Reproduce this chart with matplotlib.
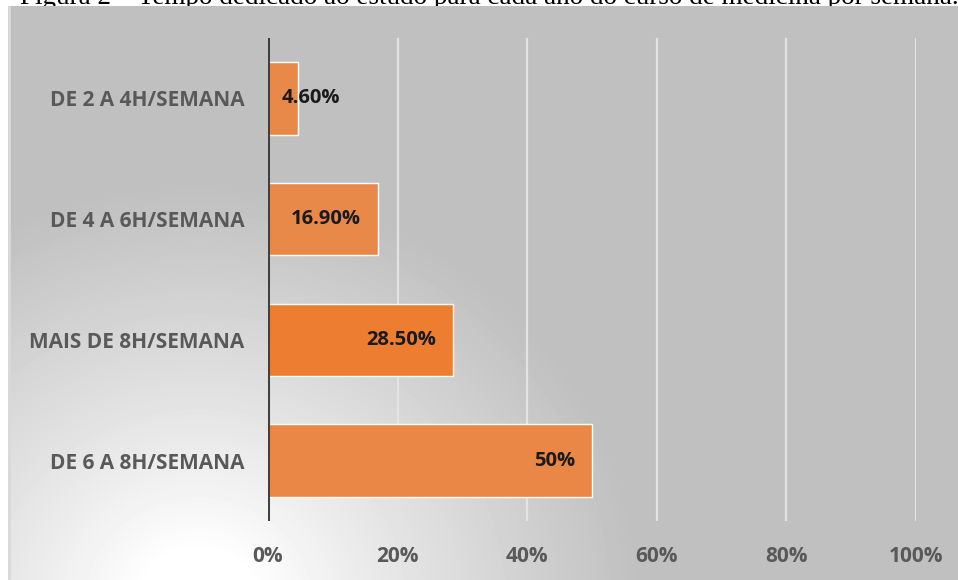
import numpy as np
import matplotlib
matplotlib.use('Agg')
import matplotlib.pyplot as plt

# data (top to bottom as shown)
categories = ['DE 2 A 4H/SEMANA', 'DE 4 A 6H/SEMANA', 'MAIS DE 8H/SEMANA', 'DE 6 A 8H/SEMANA']
values = [4.6, 16.9, 28.5, 50.0]
labels = ['4.60%', '16.90%', '28.50%', '50%']
xticks = [0, 20, 40, 60, 80, 100]
xticklabels = ['0%', '20%', '40%', '60%', '80%', '100%']
caption = 'Figura 2 \u2013 Tempo dedicado ao estudo para cada ano do curso de medicina por semana.'

W, H = 958, 580
fig = plt.figure(figsize=(W / 100, H / 100), dpi=100)
fig.patch.set_facecolor('white')

# caption, mostly hidden behind the chart area
fig.text(20 / W, 1 - 4 / H, caption, fontsize=19.5, family='Liberation Serif',
         ha='left', va='baseline', color='black', zorder=-5)

# chart background with radial gradient
bg = fig.add_axes([8 / W, 0, 1 - 8 / W, 1 - 6 / H], zorder=1)
yy, xx = np.mgrid[0:574, 0:950]
d = np.sqrt(((xx - 190) / 1.0) ** 2 + ((yy - 600) / 0.95) ** 2)
t = np.clip((d - 60) / 380, 0, 1) ** 0.9
img = 1.0 - t * (1 - 0.753)
bg.imshow(img, cmap='gray', vmin=0, vmax=1, aspect='auto', interpolation='bilinear')
bg.set_xticks([])
bg.set_yticks([])
for s in bg.spines.values():
    s.set_visible(False)
bg.plot([0, 0], [0, 573], color='#d9d9d9', lw=2)

ax = fig.add_axes([268 / W, 59 / H, 648 / W, 483 / H], zorder=2)
ax.patch.set_alpha(0)
pos = np.arange(len(categories))[::-1]
colors = ['#E8894A', '#E8894A', '#ED7D31', '#EA8646']
ax.barh(pos, values, height=0.6, color=colors, edgecolor='white', linewidth=1, zorder=3)

for p, v, lab in zip(pos, values, labels):
    if v < 10:
        ax.annotate(lab, (0, p), xytext=(14 * 0.72, 0), textcoords='offset points',
                    ha='left', va='center', fontsize=14.5, fontweight='bold',
                    family='Open Sans', color='#1a1a1a', zorder=4)
    else:
        ax.annotate(lab, (v, p), xytext=(-17 * 0.72, 0), textcoords='offset points',
                    ha='right', va='center', fontsize=14.5, fontweight='bold',
                    family='Open Sans', color='#1a1a1a', zorder=4)

ax.set_xlim(0, 100)
ax.set_ylim(-0.5, 3.5)
ax.set_xticks(xticks)
ax.set_xticklabels(xticklabels)
ax.set_yticks(pos)
ax.set_yticklabels(categories)
for s in ax.spines.values():
    s.set_visible(False)
ax.axvline(0, color='#404040', lw=2.2, zorder=5)
for x in xticks[1:]:
    ax.axvline(x, color='#e3e3e3', lw=1.6, zorder=1)
ax.tick_params(axis='both', length=0)
ax.tick_params(axis='y', pad=17)
ax.tick_params(axis='x', pad=18)
for t_ in ax.get_yticklabels() + ax.get_xticklabels():
    t_.set_family('Open Sans')
    t_.set_fontweight('bold')
    t_.set_color('#595959')
    t_.set_fontsize(15)

fig.savefig('out.png', dpi=100)
